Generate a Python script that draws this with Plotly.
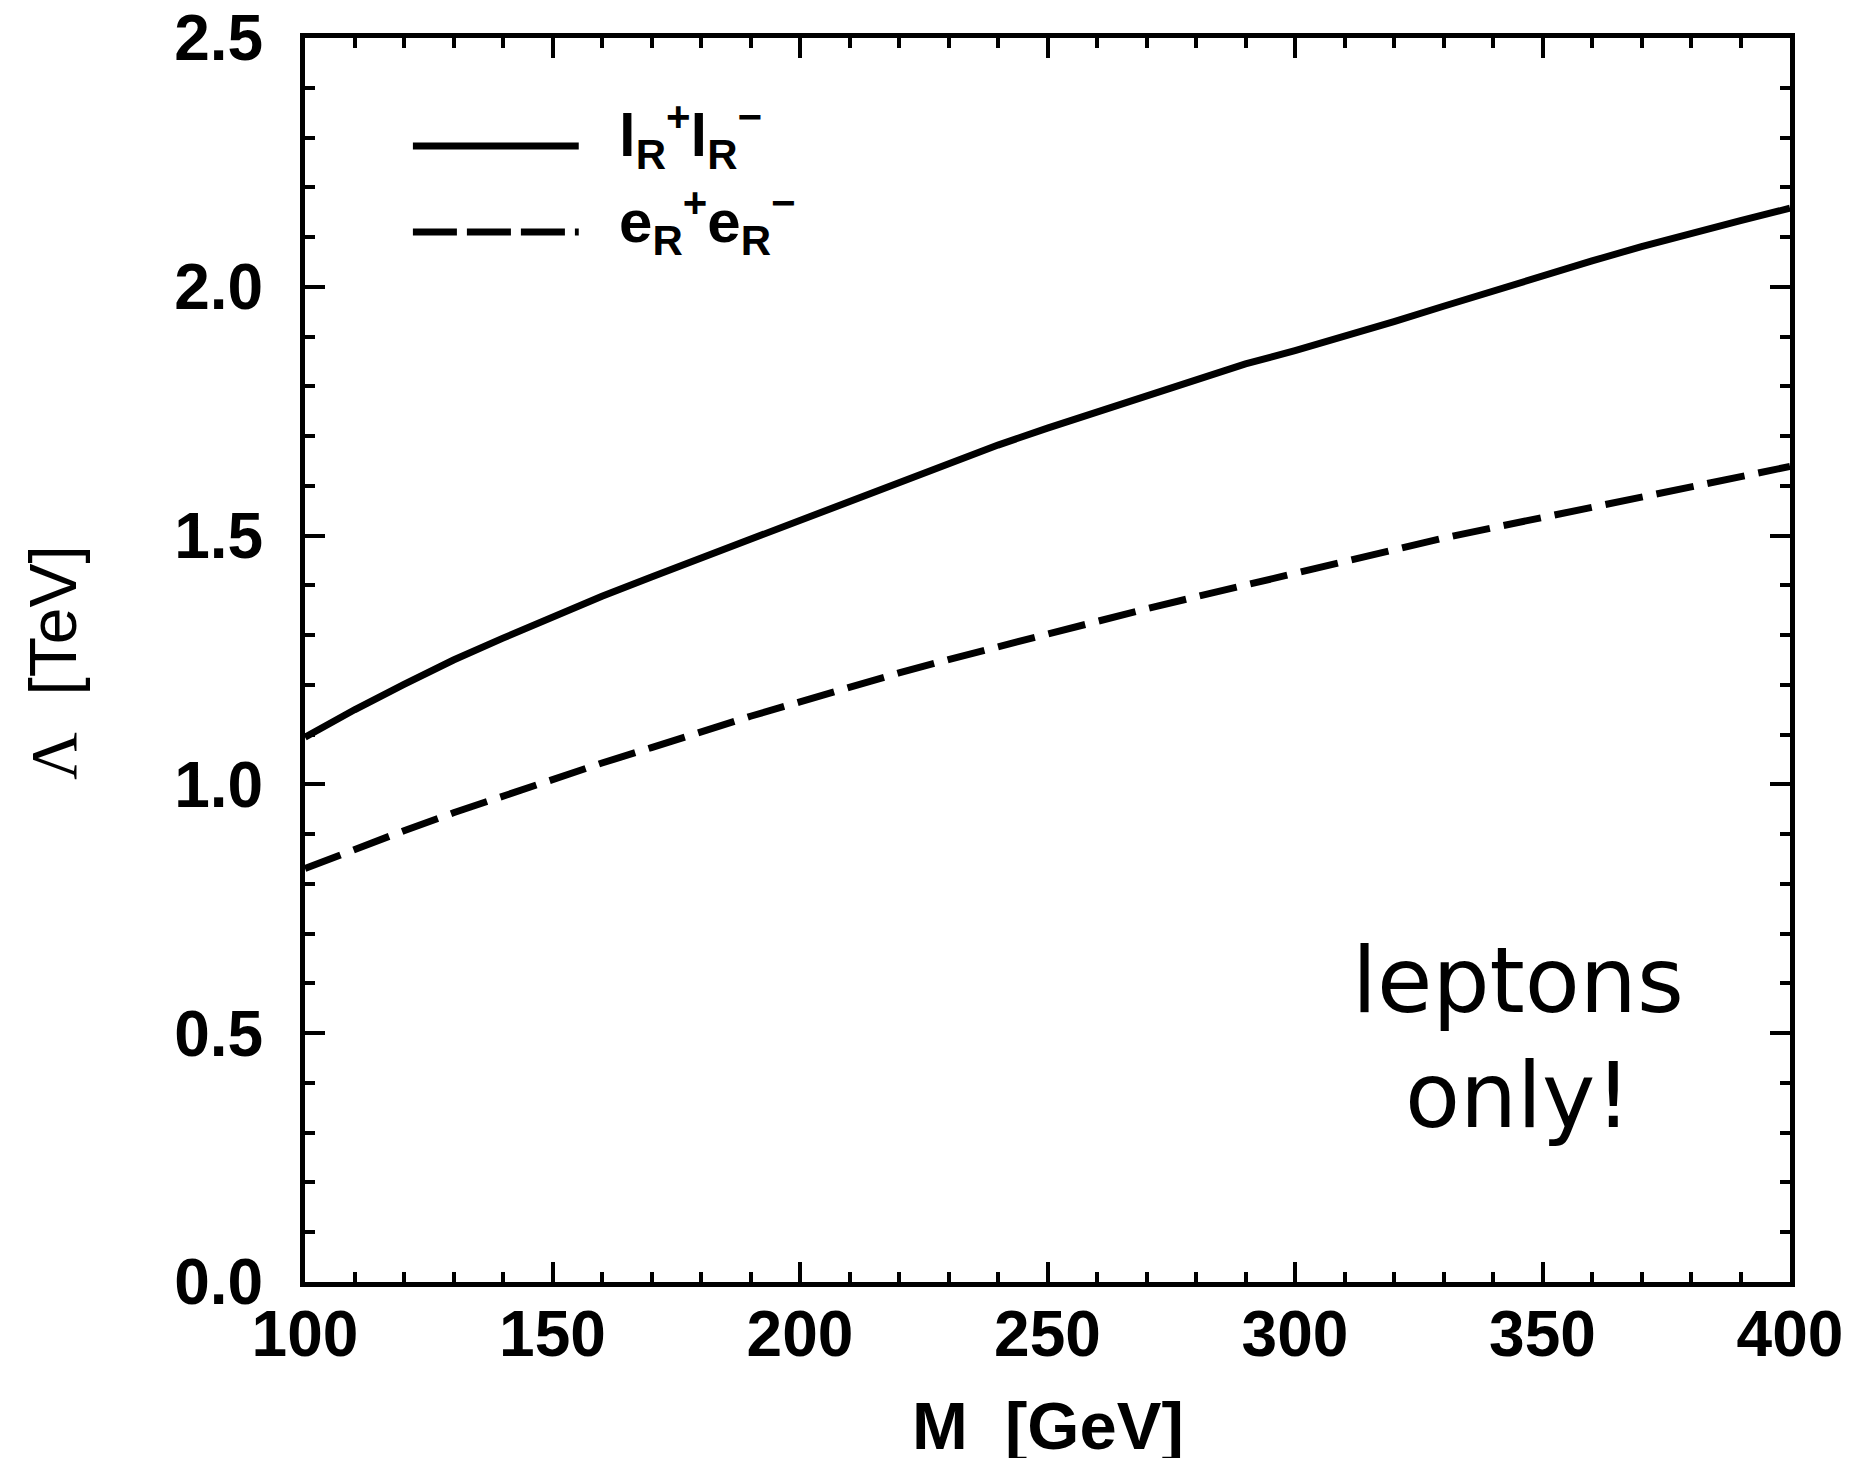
import plotly.graph_objects as go

# ---- data ----
M = [100, 110, 120, 130, 140, 150, 160, 170, 180, 190, 200, 210, 220, 230, 240,
     250, 260, 270, 280, 290, 300, 310, 320, 330, 340, 350, 360, 370, 380, 390, 400]
lam_lR = [1.095, 1.150, 1.201, 1.250, 1.294, 1.337, 1.378, 1.417, 1.455, 1.494,
          1.532, 1.569, 1.607, 1.645, 1.682, 1.716, 1.748, 1.781, 1.813, 1.845,
          1.872, 1.900, 1.930, 1.961, 1.992, 2.022, 2.052, 2.081, 2.108, 2.133, 2.158]
lam_eR = [0.831, 0.870, 0.907, 0.943, 0.977, 1.010, 1.043, 1.074, 1.106, 1.137,
          1.166, 1.196, 1.224, 1.251, 1.277, 1.303, 1.328, 1.353, 1.377, 1.401,
          1.425, 1.449, 1.472, 1.495, 1.516, 1.537, 1.557, 1.578, 1.598, 1.618, 1.639]
x_ticks = [100, 150, 200, 250, 300, 350, 400]
y_ticks = [0.0, 0.5, 1.0, 1.5, 2.0, 2.5]
y_tick_text = ["0.0", "0.5", "1.0", "1.5", "2.0", "2.5"]
legend_names = ["l<sub>R</sub><sup>+</sup>l<sub>R</sub><sup>\u2212</sup>",
                "e<sub>R</sub><sup>+</sup>e<sub>R</sub><sup>\u2212</sup>"]
note_lines = ["leptons", "only!"]

LW = 7
DASH = "38px,14px"
SANS = "Liberation Sans, Arial, sans-serif"
TICKFONT = dict(family=SANS, size=64, color="black")

fig = go.Figure()
fig.add_trace(go.Scatter(x=M, y=lam_lR, mode="lines",
                         line=dict(color="black", width=LW), showlegend=False))
fig.add_trace(go.Scatter(x=M, y=lam_eR, mode="lines",
                         line=dict(color="black", width=LW, dash=DASH), showlegend=False))

# manual legend (samples in data coords)
leg_x0, leg_x1 = 121.8, 155.3
leg_y = [2.283, 2.110]
fig.add_shape(type="line", x0=leg_x0, x1=leg_x1, y0=leg_y[0], y1=leg_y[0],
              line=dict(color="black", width=LW))
fig.add_shape(type="line", x0=leg_x0, x1=leg_x1, y0=leg_y[1], y1=leg_y[1],
              line=dict(color="black", width=LW, dash="44px,10px,44px,10px,44px,10px,4px"))
for name, yy in zip(legend_names, leg_y):
    fig.add_annotation(x=163, y=yy, xref="x", yref="y", text="<b>" + name + "</b>",
                       showarrow=False, xanchor="left", yanchor="middle", yshift=11,
                       font=dict(family=SANS, size=60, color="black"))

# "leptons only!" text
for txt, yy in zip(note_lines, [0.605, 0.375]):
    fig.add_annotation(x=345, y=yy, xref="x", yref="y", text=txt,
                       showarrow=False, xanchor="center", yanchor="middle", align="center",
                       font=dict(family="DejaVu Sans, sans-serif", size=90, color="black"))

# axis titles
fig.add_annotation(x=0.5, y=0, xref="paper", yref="paper", text="<b>M\u00a0\u00a0[GeV]</b>",
                   showarrow=False, xanchor="center", yanchor="middle", yshift=-143,
                   font=dict(family=SANS, size=67, color="black"))
fig.add_annotation(x=0, y=0.5, xref="paper", yref="paper", textangle=-90,
                   text="<span style=\"font-family:'Liberation Serif'\">\u039b</span>\u00a0\u00a0[TeV]",
                   showarrow=False, xanchor="center", yanchor="middle", xshift=-252, yshift=-3,
                   font=dict(family=SANS, size=66, color="black"))

axis_common = dict(showline=True, linecolor="black", linewidth=5, mirror="ticks",
                   ticks="inside", ticklen=20, tickwidth=4, tickcolor="black",
                   showgrid=False, zeroline=False, tickfont=TICKFONT, ticklabeloverflow="allow",
                   automargin=False)

fig.update_xaxes(range=[100, 400], tickvals=x_ticks, ticktext=[f"<b>{v}</b>" for v in x_ticks],
                 minor=dict(dtick=10, ticks="inside", ticklen=10, tickwidth=4, tickcolor="black",
                            showgrid=False),
                 ticklabelstandoff=-8, **axis_common)
fig.update_yaxes(range=[0, 2.5001], tickvals=y_ticks, ticktext=[f"<b>{t}</b>" for t in y_tick_text],
                 minor=dict(dtick=0.1, ticks="inside", ticklen=10, tickwidth=4, tickcolor="black",
                            showgrid=False),
                 ticklabelstandoff=24, **axis_common)

# page body has an 8px margin, so the figure is sized to fit the window
fig.update_layout(width=1836, height=1450, margin=dict(l=297, r=54, t=30, b=176, autoexpand=False),
                  plot_bgcolor="white", paper_bgcolor="white", showlegend=False)

fig.write_html("out.html")
